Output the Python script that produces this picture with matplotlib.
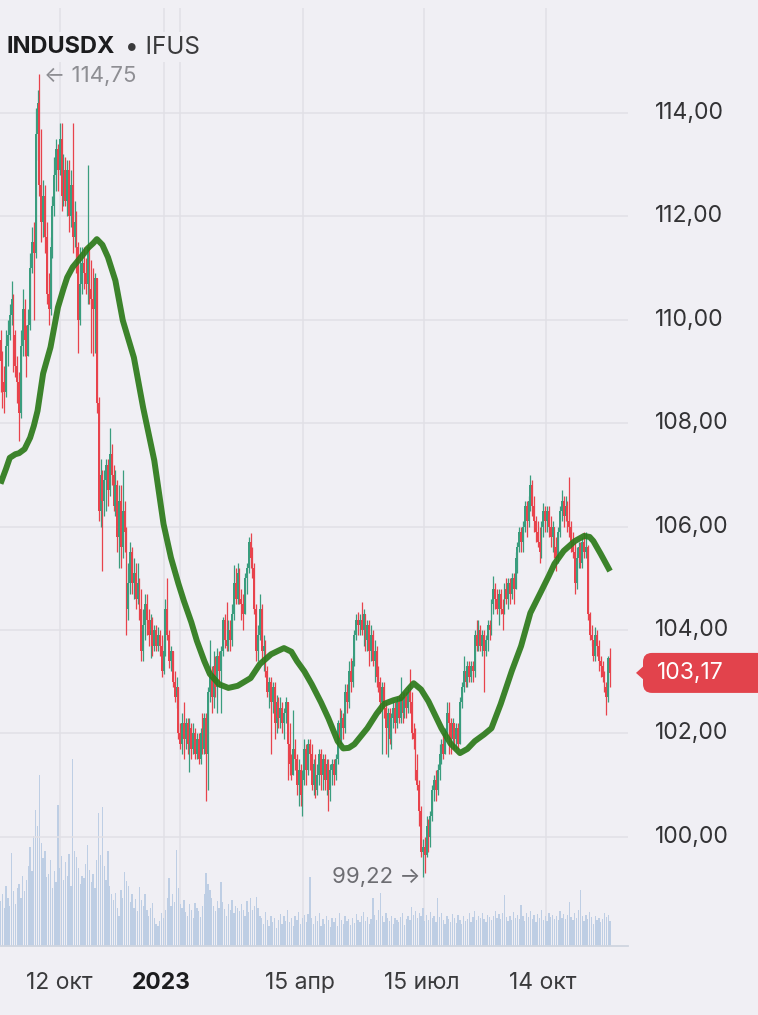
import numpy as np
import matplotlib
matplotlib.use("Agg")
import matplotlib.pyplot as plt
import matplotlib.transforms as mtransforms
from matplotlib.patches import FancyBboxPatch, Polygon

plt.rcParams['font.family'] = ['Inter', 'DejaVu Sans']

# daily candles, 29 Aug 2022 .. 1 Dec 2023, one row per week (Mon..Fri)
first_open = 109.6
closes = [
    109.2, 108.8, 108.6, 109.5, 109.7,   110.1, 110.4, 109.7, 109.1, 108.8,
    108.2, 109.5, 110.2, 109.6, 109.3,   109.9, 111.0, 111.5, 111.3, 113.6,
    114.2, 112.6, 111.9, 112.4, 111.6,   110.5, 110.2, 111.4, 112.2, 112.8,
    113.3, 112.9, 113.5, 112.4, 112.9,   112.3, 112.9, 112.0, 112.6, 111.6,
    111.9, 111.4, 110.0, 110.7, 111.1,   110.9, 110.7, 111.4, 110.6, 110.4,
    110.2, 110.8, 108.4, 106.3, 107.0,   106.5, 106.9, 107.2, 106.7, 107.4,
    107.0, 106.4, 106.8, 105.8, 106.5,   105.6, 106.3, 105.9, 104.4, 104.9,
    105.5, 104.9, 105.1, 104.6, 104.9,   104.4, 103.6, 104.1, 104.5, 104.2,
    103.9, 104.2, 103.7, 104.0, 103.7,   103.9, 103.7, 103.2, 103.6, 104.4,
    103.9, 103.4, 103.6, 103.0, 102.7,   102.9, 102.0, 101.8, 102.2, 101.9,
    102.2, 101.8, 102.1, 101.7, 102.0,   101.6, 101.9, 101.5, 102.0, 101.7,
    102.3, 101.6, 102.8, 103.1, 102.7,   103.3, 102.9, 103.5, 103.2, 103.6,
    104.2, 103.8, 103.7, 104.0, 103.8,   104.3, 104.9, 104.6, 105.1, 104.6,
    104.5, 104.3, 105.0, 105.2, 105.7,   105.4, 105.2, 104.4, 103.6, 103.9,
    104.4, 103.6, 103.7, 103.2, 102.8,   103.0, 102.6, 102.9, 102.2, 102.6,
    102.3, 102.5, 102.2, 102.4, 102.6,   101.8, 101.4, 101.2, 101.7, 101.5,
    101.0, 101.3, 100.8, 101.1, 101.7,   101.3, 101.8, 101.6, 101.0, 101.4,
    100.9, 101.2, 101.6, 101.2, 101.5,   101.1, 101.4, 100.9, 101.3, 101.4,
    101.2, 101.5, 102.2, 101.9, 102.3,   102.1, 102.8, 102.6, 103.2, 103.0,
    103.4, 103.9, 104.2, 104.1, 104.2,   104.0, 104.3, 103.8, 104.1, 103.6,
    103.9, 103.4, 103.6, 103.1, 103.0,   102.6, 102.9, 102.5, 102.1, 102.4,
    101.9, 102.3, 102.5, 102.2, 102.6,   102.3, 102.7, 102.4, 102.7, 102.5,
    102.8, 102.6, 102.0, 101.9, 101.3,   101.0, 100.5, 99.7, 99.8, 99.65,
    100.2, 100.0, 100.4, 100.9, 101.1,   100.9, 101.3, 101.6, 101.8, 101.6,
    102.0, 102.4, 102.2, 101.9, 102.2,   101.9, 102.1, 101.8, 102.6, 102.9,
    103.2, 103.0, 103.3, 103.1, 103.3,   103.2, 103.9, 103.7, 104.0, 103.7,
    103.9, 103.6, 103.8, 104.1, 104.0,   104.5, 104.8, 104.6, 104.4, 104.7,
    104.4, 104.3, 104.8, 104.6, 104.9,   104.7, 105.0, 104.8, 105.4, 105.6,
    105.9, 105.7, 106.0, 106.4, 106.1,   106.5, 106.8, 106.4, 106.1, 105.9,
    105.7, 105.5, 106.0, 106.3, 106.1,   106.3, 106.0, 105.8, 106.0, 105.6,
    105.4, 105.9, 106.3, 106.5, 106.2,   106.4, 106.1, 106.0, 105.7, 105.5,
    104.9, 105.4, 105.6, 105.3, 105.7,   105.5, 105.6, 104.3, 103.9, 103.8,
    103.5, 103.9, 103.7, 103.4, 103.3,   103.1, 102.9, 102.7, 103.45, 103.17,
]
highs = [
    109.8, 109.4, 109.1, 109.8, 110.0,   110.3, 110.75, 110.5, 109.8, 109.3,
    109.0, 109.8, 110.6, 110.4, 109.9,   110.2, 111.3, 111.8, 111.9, 114.1,
    114.45, 114.75, 113.7, 112.7, 112.6, 111.9, 110.9, 111.6, 112.4, 113.15,
    113.5, 113.4, 113.8, 113.8, 113.2,   113.15, 113.1, 113.1, 112.9, 113.8,
    112.3, 112.1, 111.5, 111.4, 111.4,   111.4, 111.2, 113.0, 111.3, 111.15,
    111.0, 110.9, 110.8, 108.5, 107.3,   107.1, 107.1, 107.3, 107.3, 107.9,
    107.6, 107.2, 107.1, 106.9, 106.8,   106.8, 107.1, 106.5, 106.0, 105.3,
    105.7, 105.6, 105.4, 105.3, 105.3,   105.0, 104.8, 104.4, 104.7, 104.7,
    104.4, 104.3, 104.25, 104.1, 104.1,  104.05, 104.0, 103.9, 103.8, 104.6,
    105.0, 104.0, 103.7, 103.6, 103.2,   103.1, 102.9, 102.2, 102.4, 102.6,
    102.3, 102.3, 102.3, 102.2, 102.2,   102.1, 102.0, 102.0, 102.1, 102.4,
    102.4, 102.4, 102.9, 103.8, 103.3,   103.6, 103.5, 103.65, 103.6, 103.7,
    104.25, 104.3, 104.55, 104.2, 104.2, 104.5, 105.25, 105.2, 105.3, 105.2,
    104.8, 104.7, 105.1, 105.3, 105.8,   105.88, 105.6, 105.3, 104.5, 104.1,
    104.7, 104.5, 103.9, 103.8, 103.3,   103.1, 103.1, 103.0, 103.0, 102.75,
    102.7, 102.7, 102.6, 102.5, 102.7,   102.6, 102.2, 101.6, 102.45, 101.9,
    101.6, 101.5, 101.4, 101.3, 101.9,   101.8, 101.9, 101.9, 101.8, 101.5,
    101.6, 101.4, 101.7, 101.7, 101.6,   101.6, 101.5, 101.5, 101.4, 101.5,
    101.5, 101.6, 102.25, 102.5, 102.45, 102.4, 102.95, 102.95, 103.4, 103.45,
    103.5, 104.0, 104.3, 104.35, 104.3,  104.55, 104.4, 104.3, 104.2, 104.2,
    104.1, 104.0, 103.8, 103.7, 103.3,   103.1, 103.0, 103.0, 102.6, 102.5,
    102.5, 102.4, 102.6, 102.6, 102.7,   102.75, 103.1, 102.8, 102.8, 102.8,
    102.9, 103.25, 102.8, 102.2, 102.1,  101.6, 101.1, 100.6, 99.95, 100.0,
    100.4, 100.35, 100.5, 101.0, 101.2,  101.3, 101.4, 101.8, 101.9, 102.0,
    102.1, 102.6, 102.6, 102.3, 102.3,   102.2, 102.2, 102.2, 102.7, 103.0,
    103.5, 103.3, 103.4, 103.4, 103.4,   103.4, 104.0, 104.2, 104.2, 104.1,
    104.0, 104.0, 103.9, 104.2, 104.2,   104.6, 105.05, 104.9, 104.8, 104.8,
    104.8, 104.6, 104.9, 105.0, 105.0,   105.0, 105.1, 105.1, 105.5, 105.7,
    106.0, 106.0, 106.1, 106.5, 106.5,   106.6, 107.0, 106.9, 106.6, 106.2,
    106.1, 106.0, 106.1, 106.45, 106.4,  106.4, 106.4, 106.2, 106.1, 106.0,
    105.8, 106.0, 106.4, 106.7, 106.6,   106.6, 106.5, 106.95, 106.1, 105.9,
    105.7, 105.6, 105.7, 105.7, 105.8,   105.9, 105.9, 105.65, 104.35, 104.1,
    103.8, 104.05, 104.0, 103.8, 103.5,  103.4, 103.2, 103.0, 103.5, 103.65,
]
lows = [
    108.6, 108.3, 108.2, 108.5, 109.1,   109.6, 109.9, 109.0, 108.9, 108.4,
    107.65, 108.1, 109.3, 109.3, 108.9,  109.5, 109.8, 110.9, 110.0, 111.2,
    113.1, 112.4, 111.5, 111.6, 111.3,   110.3, 109.9, 110.1, 111.2, 112.0,
    112.5, 112.5, 112.8, 112.1, 112.2,   112.2, 112.0, 111.7, 111.8, 111.3,
    111.4, 110.9, 109.35, 109.9, 110.5,  110.6, 110.5, 110.3, 110.3, 109.35,
    109.3, 109.35, 108.2, 106.1, 106.0,  105.15, 106.2, 106.3, 106.4, 106.6,
    106.8, 106.3, 106.2, 105.5, 105.2,   105.2, 105.4, 105.5, 103.9, 104.2,
    104.7, 104.7, 104.6, 104.4, 104.5,   104.2, 103.4, 103.4, 103.8, 103.9,
    103.7, 103.45, 103.5, 103.6, 103.6,  103.6, 103.5, 103.1, 103.15, 103.5,
    103.8, 103.26, 103.2, 102.9, 102.6,  102.5, 101.9, 101.7, 101.6, 101.5,
    101.7, 101.6, 101.25, 101.5, 101.6,  101.5, 101.5, 101.4, 101.4, 101.6,
    101.6, 100.7, 100.9, 102.6, 102.4,   102.5, 102.7, 102.4, 102.9, 102.4,
    103.5, 103.65, 103.6, 103.6, 103.6,  103.7, 104.2, 104.5, 104.5, 104.5,
    104.2, 104.0, 104.3, 104.7, 105.1,   105.2, 105.0, 104.3, 103.4, 103.4,
    103.8, 103.4, 103.2, 103.1, 102.7,   102.5, 101.6, 102.4, 101.9, 102.0,
    102.1, 102.1, 102.0, 101.9, 102.2,   101.1, 101.2, 101.1, 101.3, 101.3,
    100.8, 100.6, 100.6, 100.4, 101.0,   101.0, 101.2, 101.3, 100.9, 100.8,
    100.75, 100.8, 101.0, 100.9, 100.9,  100.9, 100.8, 100.5, 100.7, 101.0,
    101.0, 101.1, 101.4, 101.8, 101.8,   101.9, 102.0, 102.4, 102.5, 102.8,
    102.9, 103.3, 103.8, 103.9, 103.9,   103.9, 103.7, 103.6, 103.6, 103.3,
    103.4, 103.3, 103.0, 102.9, 102.8,   102.4, 101.6, 102.3, 101.6, 101.55,
    101.8, 101.7, 102.1, 102.0, 102.1,   102.2, 102.2, 102.2, 102.3, 102.3,
    102.4, 102.4, 101.9, 101.7, 101.1,   100.9, 100.2, 99.6, 99.22, 99.3,
    99.6, 99.7, 99.8, 100.3, 100.7,      100.7, 100.8, 101.1, 101.4, 101.5,
    101.6, 101.9, 101.6, 101.6, 101.7,   101.7, 101.7, 101.7, 101.8, 102.5,
    102.8, 102.9, 102.9, 103.0, 103.0,   103.0, 103.1, 103.6, 103.6, 103.6,
    103.5, 102.8, 103.5, 103.6, 103.8,   103.9, 104.3, 104.4, 104.3, 104.1,
    104.3, 104.0, 104.3, 104.5, 104.4,   104.5, 104.6, 104.5, 104.8, 105.1,
    105.5, 105.5, 105.5, 105.9, 105.8,   106.0, 106.3, 106.2, 105.9, 105.7,
    105.6, 105.3, 105.4, 105.8, 105.9,   105.9, 105.8, 105.6, 105.5, 105.4,
    105.15, 105.3, 105.8, 106.1, 106.0,  106.1, 105.9, 105.8, 105.5, 105.4,
    104.7, 104.8, 105.2, 105.2, 105.2,   105.4, 105.4, 104.2, 103.8, 103.7,
    103.4, 103.4, 103.5, 103.2, 103.1,   103.0, 102.8, 102.35, 102.6, 102.9,
]
volume = [
    45, 52, 38, 60, 48,    40, 93, 55, 42, 58,    62, 48, 70, 55, 66,
    80, 99, 75, 110, 136,  120, 171, 103, 88, 95, 69, 72, 86, 58, 75,
    64, 141, 78, 90, 66,   84, 70, 92, 60, 187,   95, 89, 78, 62, 70,
    68, 82, 101, 76, 64,   72, 58, 86, 133, 91,   139, 80, 66, 95, 60,
    52, 46, 53, 38, 30,    56, 48, 74, 65, 60,    44, 52, 38, 47, 35,
    59, 46, 40, 52, 36,    30, 38, 43, 28, 22,    20, 25, 33, 28, 36,
    48, 68, 40, 52, 44,    96, 58, 42, 38, 46,    34, 30, 42, 36, 28,
    43, 38, 35, 29, 40,    52, 73, 62, 56, 48,    40, 35, 45, 38, 64,
    44, 37, 30, 42, 36,    46, 33, 40, 38, 35,    42, 36, 30, 45, 34,
    48, 36, 40, 49, 38,    30, 28, 22, 34, 26,    20, 30, 24, 28, 18,
    26, 32, 22, 30, 25,    36, 24, 28, 20, 30,    26, 34, 22, 28, 31,
    24, 32, 69, 28, 22,    30, 25, 33, 20, 27,    22, 30, 26, 19, 28,
    24, 28, 20, 33, 26,    22, 30, 25, 27, 21,    28, 23, 32, 26, 24,
    30, 34, 25, 29, 22,    27, 48, 31, 26, 36,    53, 30, 24, 33, 28,
    25, 30, 22, 28, 26,    24, 29, 33, 21, 27,    30, 26, 39, 31, 35,
    28, 33, 30, 38, 25,    31, 26, 34, 28, 30,    24, 48, 29, 33, 26,
    22, 30, 27, 24, 32,    28, 23, 31, 26, 22,    30, 25, 27, 33, 24,
    29, 35, 26, 30, 28,    33, 27, 24, 31, 29,    26, 30, 35, 28, 32,
    27, 33, 51, 29, 25,    30, 26, 34, 28, 31,    27, 41, 30, 25, 33,
    29, 35, 27, 31, 24,    32, 28, 36, 26, 30,    25, 33, 29, 31, 27,
    30, 26, 35, 28, 32,    27, 31, 44, 29, 26,    33, 28, 36, 56, 30,
    25, 31, 27, 34, 29,    22, 30, 26, 28, 24,    27, 33, 29, 31, 25,
]

# moving average: (candle index, value)
ma_idx = [0, 3, 5, 8, 10, 13, 16, 18, 20, 23, 27, 31, 34, 36, 39, 42, 45, 47, 50, 52,
          55, 58, 62, 66, 72, 77, 83, 88, 92, 96, 99, 103, 106, 110, 113, 118, 123,
          128, 135, 140, 146, 150, 153, 157, 160, 164, 168, 173, 177, 182, 185, 188,
          191, 198, 203, 207, 212, 216, 220, 223, 227, 231, 238, 243, 248, 252, 256,
          261, 265, 270, 276, 281, 286, 292, 296, 299, 304, 310, 313, 315, 318, 320,
          324, 329]
ma_val = [106.83, 107.12, 107.33, 107.40, 107.42, 107.50, 107.72, 107.95, 108.24, 108.96,
          109.47, 110.24, 110.60, 110.82, 111.02, 111.15, 111.28, 111.38, 111.48, 111.56,
          111.45, 111.21, 110.76, 109.99, 109.27, 108.30, 107.28, 106.05, 105.40, 104.90,
          104.56, 104.15, 103.79, 103.40, 103.15, 102.95, 102.88, 102.92, 103.07, 103.34,
          103.53, 103.60, 103.65, 103.58, 103.40, 103.20, 102.95, 102.60, 102.29, 101.85,
          101.71, 101.72, 101.79, 102.10, 102.38, 102.57, 102.64, 102.68, 102.85, 102.97,
          102.85, 102.62, 102.10, 101.80, 101.62, 101.70, 101.85, 101.98, 102.10, 102.57,
          103.21, 103.69, 104.33, 104.76, 105.05, 105.28, 105.53, 105.72, 105.78, 105.82,
          105.80, 105.72, 105.47, 105.14]

y_ticks = [100, 102, 104, 106, 108, 110, 112, 114]
x_grid = [32.1, 88.3, 96.9, 163.3, 228.6, 294.4]
x_tick_pos = [31.6, 86.6, 161.7, 227.5, 292.8]
x_tick_lab = ["12 окт", "2023", "15 апр", "15 июл", "14 окт"]

hi_val, lo_val = 114.75, 99.22

# colours
BG = "#f0eff4"
GRID = "#e1e0e6"
RED = "#e8434c"
GREEN = "#3a9d7e"
MA_COL = "#2e7b1c"
VOL_COL = "#bccde4"

closes = np.array(closes)
highs = np.array(highs)
lows = np.array(lows)
volume = np.array(volume)
n = len(closes)
idx = np.arange(n)
opens = np.concatenate([[first_open], closes[:-1]])
up = closes >= opens
highs = np.maximum(highs, np.maximum(opens, closes))
lows = np.minimum(lows, np.minimum(opens, closes))

W, H = 758, 1015
fig = plt.figure(figsize=(W / 100, H / 100), dpi=100)
fig.patch.set_facecolor(BG)
rect = [0, (H - 946) / H, 628 / W, (946 - 8) / H]

ax_vol = fig.add_axes(rect, zorder=0)
ax = fig.add_axes(rect, zorder=1)
ax.patch.set_visible(False)
ax_vol.set_facecolor(BG)

x_lim = (-0.27, 338.7)
for a in (ax, ax_vol):
    a.set_xlim(*x_lim)
    a.set_xticks([])
    a.set_yticks([])
    for s in a.spines.values():
        s.set_visible(False)
ax.set_ylim(97.888, 116.031)

# grid
for v in y_ticks:
    ax.axhline(v, color=GRID, lw=1.1, zorder=0)
for xg in x_grid:
    ax_vol.axvline(xg, color=GRID, lw=1.1, zorder=0)

# volume
ax_vol.bar(idx, volume, width=0.7, color=VOL_COL, alpha=0.95, linewidth=0, zorder=1)
ax_vol.set_ylim(0, volume.max() * 5.02)
ax_vol.spines['bottom'].set_visible(True)
ax_vol.spines['bottom'].set_color("#cfd5e0")
ax_vol.spines['bottom'].set_linewidth(1.3)

# candles
colors = np.where(up, GREEN, RED)
ax.vlines(idx, lows, highs, colors=colors, lw=0.9, zorder=2)
body_lo = np.minimum(opens, closes)
body_h = np.maximum(np.abs(closes - opens), 0.04)
ax.bar(idx, body_h, bottom=body_lo, width=1.0, color=colors, linewidth=0, zorder=2)

# moving average
ax.plot(ma_idx, ma_val, color=MA_COL, lw=4.3, alpha=0.93, solid_capstyle='butt',
        solid_joinstyle='round', zorder=3)

# y labels on the right
ylab_tr = mtransforms.blended_transform_factory(fig.transFigure, ax.transData)
for v in y_ticks:
    ax.text(655 / W, v, f"{v},00", transform=ylab_tr, ha='left', va='center',
            fontsize=16.5, color="#333335", clip_on=False)

# x labels
xlab_tr = mtransforms.blended_transform_factory(ax.transData, fig.transFigure)
for p, lab in zip(x_tick_pos, x_tick_lab):
    ax.text(p, 1 - 983 / H, lab, transform=xlab_tr, ha='center', va='center',
            fontsize=16.5, color="#1c1c1e" if lab == "2023" else "#3a3a3c",
            fontweight='bold' if lab == "2023" else 'normal', clip_on=False)

# high / low markers
i_hi = int(np.argmax(highs))
i_lo = int(np.argmin(lows))
ax.annotate("← " + f"{hi_val:.2f}".replace(".", ","), xy=(i_hi, hi_val), xytext=(3, -1.5),
            textcoords='offset points', ha='left', va='center', fontsize=16,
            color="#8e8e93", zorder=4)
ax.annotate(f"{lo_val:.2f}".replace(".", ",") + " →", xy=(i_lo, lo_val), xytext=(-1.5, 0),
            textcoords='offset points', ha='right', va='center', fontsize=16,
            color="#6d6d72", zorder=4)

# title
fig.text(6 / W, 1 - 47 / H, "INDUSDX", fontsize=17, fontweight='bold', color="#1c1c1e",
         va='center', ha='left',
         bbox=dict(facecolor=BG, edgecolor='none', pad=2.5))
fig.text(125 / W, 1 - 47 / H, "• IFUS", fontsize=17.5, color="#3a3a3c", va='center', ha='left',
         bbox=dict(facecolor=BG, edgecolor='none', pad=2.5))

# last price badge
yc = ax.transData.transform((0, closes[-1]))[1]
ident = mtransforms.IdentityTransform()
badge = FancyBboxPatch((643, yc - 20), 130, 40, boxstyle="round,pad=0,rounding_size=9",
                       facecolor="#e2434c", edgecolor='none', transform=ident)
tip = Polygon([(636, yc), (646, yc + 9), (646, yc - 9)], closed=True,
              facecolor="#e2434c", edgecolor='none', transform=ident)
fig.add_artist(badge)
fig.add_artist(tip)
fig.text(690 / W, yc / H, f"{closes[-1]:.2f}".replace(".", ","), fontsize=16.5, color="white",
         ha='center', va='center')

fig.savefig("out.png", dpi=100, facecolor=BG)
